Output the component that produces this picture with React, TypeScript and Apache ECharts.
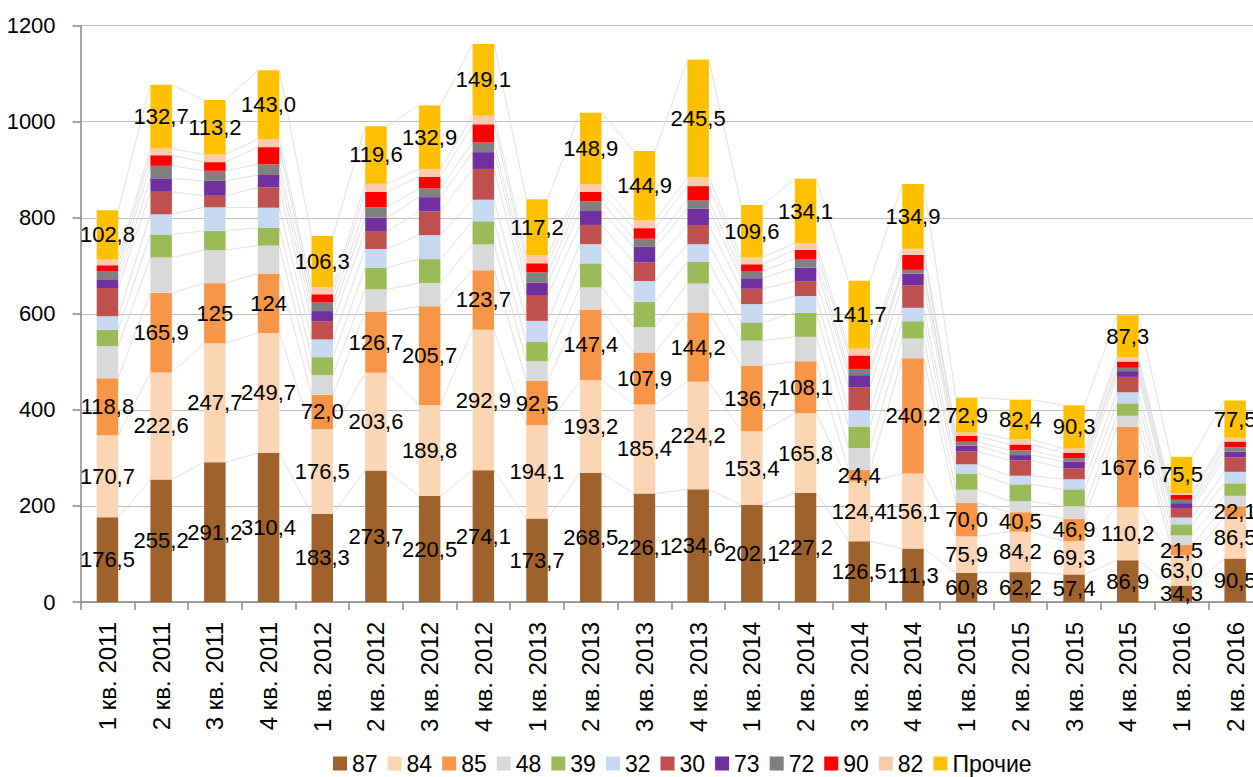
import React, { useEffect, useRef } from "react";
import * as echarts from "echarts";

const categories = [
  "1 кв. 2011", "2 кв. 2011", "3 кв. 2011", "4 кв. 2011",
  "1 кв. 2012", "2 кв. 2012", "3 кв. 2012", "4 кв. 2012",
  "1 кв. 2013", "2 кв. 2013", "3 кв. 2013", "4 кв. 2013",
  "1 кв. 2014", "2 кв. 2014", "3 кв. 2014", "4 кв. 2014",
  "1 кв. 2015", "2 кв. 2015", "3 кв. 2015", "4 кв. 2015",
  "1 кв. 2016", "2 кв. 2016",
];

const s87 = [176.5, 255.2, 291.2, 310.4, 183.3, 273.7, 220.5, 274.1, 173.7, 268.5, 226.1, 234.6, 202.1, 227.2, 126.5, 111.3, 60.8, 62.2, 57.4, 86.9, 34.3, 90.5];
const s84 = [170.7, 222.6, 247.7, 249.7, 176.5, 203.6, 189.8, 292.9, 194.1, 193.2, 185.4, 224.2, 153.4, 165.8, 124.4, 156.1, 75.9, 84.2, 69.3, 110.2, 63.0, 86.5];
// written as text: some are shown without decimals in the original labels
const s85 = ["118.8", "165.9", "125", "124", "72.0", "126.7", "205.7", "123.7", "92.5", "147.4", "107.9", "144.2", "136.7", "108.1", "24.4", "240.2", "70.0", "40.5", "46.9", "167.6", "21.5", "22.1"];
const s48 = [67, 73.5, 69, 58, 41, 47, 48, 54, 41, 46, 53, 60, 52, 51, 45, 41, 27, 23, 26, 23, 20, 22];
const s39 = [34, 48, 40, 37, 37, 45, 50, 48, 40, 50, 53, 45, 38, 50, 45, 36, 34, 35, 35, 26, 23, 26];
const s32 = [28, 42, 49, 42, 37, 39, 50, 45, 44, 40, 43, 37, 38, 35, 34, 28, 19, 18, 21, 23, 14, 24];
const s30 = [59, 47, 24, 42, 38, 36, 49, 64, 54, 40, 39, 40, 32, 31, 48, 47, 27, 32, 23, 32, 20, 30];
const s73 = [18, 28, 31, 26, 21, 29, 30, 35, 26, 29, 32, 34, 22, 28, 25, 24, 12, 11, 14, 12, 10, 12];
const s72 = [17, 26, 21, 22, 18, 22, 18, 20, 21, 20, 17, 17, 15, 18, 13, 8, 8, 10, 7, 7, 7, 9];
const s90 = [12, 22, 18, 36, 17, 32, 24, 38, 19, 20, 22, 30, 14, 19, 28, 31, 12, 12, 11, 13, 10, 12];
const s82 = [12, 14, 16, 17, 15, 17, 16, 18, 16, 16, 16, 18, 14, 14, 14, 13, 7, 11, 9, 9, 4, 8];
const sOther = [102.8, 132.7, 113.2, 143.0, 106.3, 119.6, 132.9, 149.1, 117.2, 148.9, 144.9, 245.5, 109.6, 134.1, 141.7, 134.9, 72.9, 82.4, 90.3, 87.3, 75.5, 77.5];

const yTicks = { min: 0, max: 1200, interval: 200 };

const FONT = "'Liberation Sans', Arial, sans-serif";

const seriesDefs: { name: string; values: (number | string)[]; color: string; label: boolean }[] = [
  { name: "87", values: s87, color: "#A0622C", label: true },
  { name: "84", values: s84, color: "#FCD5B5", label: true },
  { name: "85", values: s85, color: "#F79646", label: true },
  { name: "48", values: s48, color: "#D9D9D9", label: false },
  { name: "39", values: s39, color: "#9BBB59", label: false },
  { name: "32", values: s32, color: "#C6D9F1", label: false },
  { name: "30", values: s30, color: "#C0504D", label: false },
  { name: "73", values: s73, color: "#7030A0", label: false },
  { name: "72", values: s72, color: "#808080", label: false },
  { name: "90", values: s90, color: "#FF0000", label: false },
  { name: "82", values: s82, color: "#F8CBAD", label: false },
  { name: "Прочие", values: sOther, color: "#FFC000", label: true },
];

const fmt = (v: number | string) =>
  typeof v === "string" ? v.replace(".", ",") : v.toFixed(1).replace(".", ",");

export default function App() {
  const ref = useRef<HTMLDivElement>(null);
  useEffect(() => {
    if (!ref.current) return;
    const chart = echarts.init(ref.current, undefined, { renderer: "svg" });
    const BAR_FRAC = 0.4;

    const cum: number[][] = categories.map((_, i) => {
      let acc = 0;
      return seriesDefs.map((s) => {
        acc += Number(s.values[i]);
        return acc;
      });
    });

    const barSeries = seriesDefs.map((s) => ({
      type: "bar",
      name: s.name,
      stack: "total",
      barWidth: "40%",
      z: 3,
      itemStyle: { color: s.color },
      data: s.values.map((v) => Number(v)),
      label: {
        show: s.label,
        position: "inside",
        color: "#000",
        fontSize: 22,
        fontFamily: FONT,
        formatter: (p: any) => fmt(s.values[p.dataIndex]),
      },
    }));

    const seriesLines = {
      type: "custom",
      silent: true,
      z: 1,
      encode: { x: 0, y: 1 },
      data: categories.slice(0, categories.length - 1).map((_, i) => [i, 0]),
      renderItem: (params: any, api: any) => {
        const i = api.value(0);
        const bw = api.size([1, 0])[0] * BAR_FRAC;
        const children = cum[i].map((c, k) => {
          const p1 = api.coord([i, c]);
          const p2 = api.coord([i + 1, cum[i + 1][k]]);
          return {
            type: "line",
            shape: { x1: p1[0] + bw / 2, y1: p1[1], x2: p2[0] - bw / 2, y2: p2[1] },
            style: { stroke: "#D9D9D9", lineWidth: 0.8 },
          };
        });
        return { type: "group", children };
      },
    };

    chart.setOption({
      animation: false,
      textStyle: { fontFamily: FONT },
      grid: { left: 80.6, right: 13, top: 25.7, bottom: 175, outerBoundsMode: "none", containLabel: false },
      legend: {
        left: 328,
        top: 747,
        icon: "rect",
        itemWidth: 14,
        itemHeight: 14,
        itemGap: 10,
        textStyle: { fontSize: 23, color: "#000", fontFamily: FONT },
        data: seriesDefs.map((s) => s.name),
      },
      xAxis: {
        type: "category",
        data: categories,
        axisLine: { show: true, lineStyle: { color: "#868686", width: 1.5 } },
        axisTick: { show: true, length: 8, alignWithLabel: false, lineStyle: { color: "#868686", width: 1.5 } },
        axisLabel: { rotate: 90, margin: 20, fontSize: 24, color: "#000", fontFamily: FONT, interval: 0 },
      },
      yAxis: {
        type: "value",
        min: yTicks.min,
        max: yTicks.max,
        interval: yTicks.interval,
        axisLine: { show: true, lineStyle: { color: "#868686", width: 1.5 } },
        axisTick: { show: true, length: 8, lineStyle: { color: "#868686", width: 1.5 } },
        axisLabel: { fontSize: 22, color: "#000", margin: 25, fontFamily: FONT, formatter: (v: number) => String(v) },
        splitLine: { show: true, lineStyle: { color: "#BFBFBF", width: 1.2 } },
      },
      series: [seriesLines, ...barSeries],
    });
    return () => chart.dispose();
  }, []);

  return (
    <div style={{ position: "absolute", left: 0, top: 0, width: 1253, height: 777, overflow: "hidden", background: "#fff" }}>
      <div ref={ref} style={{ width: 1275, height: 777 }} />
    </div>
  );
}
